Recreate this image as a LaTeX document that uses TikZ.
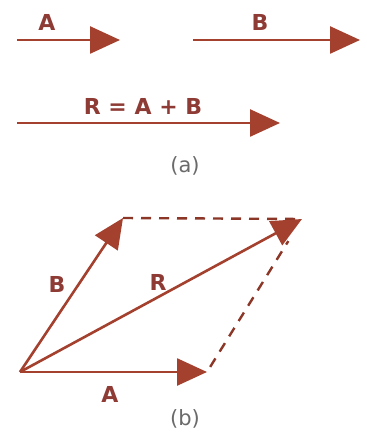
\documentclass[tikz,border=0pt]{standalone}
\usepackage{fontspec}
\setmainfont{DejaVu Sans}
\usetikzlibrary{arrows.meta}
\definecolor{vecred}{HTML}{A3402E}
\definecolor{lblred}{HTML}{8E3B35}
\definecolor{capgray}{HTML}{6A6A6A}
\tikzset{
  vec/.style={draw=vecred, line width=2.6pt, -{Triangle[length=30pt,width=27pt]}},
  guide/.style={draw=vecred!85!black, line width=2.4pt, dash pattern=on 10pt off 8pt},
  lbl/.style={font=\bfseries\fontsize{22}{26}\selectfont, text=lblred, inner sep=1pt},
  captext/.style={font=\fontsize{21}{25}\selectfont, text=capgray, inner sep=1pt}
}
\begin{document}
\begin{tikzpicture}[x=1pt, y=-1pt]
\useasboundingbox (0,0) rectangle (366,435);
% (a) vectors laid end to end
\coordinate (a0) at (17,40);
\coordinate (a1) at (120,40);
\coordinate (b0) at (193,40);
\coordinate (b1) at (360,40);
\coordinate (r0) at (17,123);
\coordinate (r1) at (280,123);
\draw[vec] (a0) -- (a1);
\draw[vec] (b0) -- (b1);
\draw[vec] (r0) -- (r1);
\node[lbl] (labA) at (47,22) {A};
\node[lbl] (labB) at (260,22) {B};
\node[lbl] (labR) at (143,106) {R = A + B};
\node[captext] (capa) at (185,166) {(a)};
% (b) parallelogram
\coordinate (o) at (20,372);
\coordinate (ta) at (207,372);
\coordinate (tb) at (123,218);
\coordinate (tr) at (302,219);
\draw[guide] (tb) -- (tr);
\draw[guide, shorten <=6pt, shorten >=26pt] (ta) -- (tr);
\draw[vec] (o) -- (ta);
\draw[vec] (o) -- (tb);
\draw[vec] (o) -- (tr);
\node[lbl] (labB2) at (57,284) {B};
\node[lbl] (labR2) at (158,282) {R};
\node[lbl] (labA2) at (110,394) {A};
\node[captext] (capb) at (185,419) {(b)};
\end{tikzpicture}
\end{document}
